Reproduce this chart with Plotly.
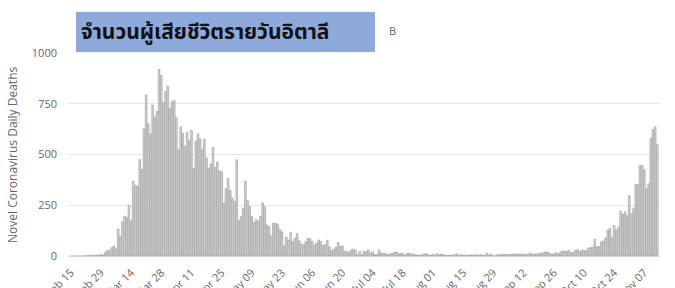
import pandas as pd
import plotly.graph_objects as go

start_date = "2020-02-15"
daily_deaths = [
    # Feb 15 - Feb 29
    0, 0, 0, 0, 0, 0, 1, 1, 1, 4, 4, 1, 5, 4, 8,
    # Mar
    5, 18, 27, 28, 41, 49, 36, 133, 97, 168, 196, 189, 250, 175, 368, 349, 345, 475, 427, 627,
    793, 651, 601, 743, 683, 712, 919, 889, 756, 812, 837,
    # Apr
    727, 760, 766, 681, 525, 636, 604, 542, 610, 570, 619, 431, 566, 602, 578, 525, 575, 482,
    433, 454, 534, 437, 464, 420, 415, 260, 333, 382, 323, 285,
    # May
    269, 474, 174, 195, 236, 369, 274, 243, 194, 165, 179, 172, 195, 262, 242, 153, 145, 99,
    162, 161, 156, 130, 119, 50, 92, 78, 117, 70, 87, 111, 75,
    # Jun
    60, 55, 71, 88, 85, 72, 53, 65, 79, 71, 53, 56, 78, 44, 26, 34, 43, 66, 47, 49, 24, 23,
    18, 30, 34, 30, 8, 22, 6, 23,
    # Jul
    21, 30, 15, 21, 7, 8, 30, 15, 12, 12, 7, 9, 13, 17, 20, 11, 13, 11, 3, 13, 15, 9, 11, 5,
    5, 5, 5, 11, 11, 6, 3,
    # Aug
    7, 3, 12, 5, 10, 6, 3, 2, 4, 4, 6, 10, 3, 6, 4, 4, 4, 5, 6, 4, 7, 3, 7, 4, 4, 13, 5, 9,
    1, 2, 6,
    # Sep
    8, 6, 10, 6, 7, 8, 7, 10, 10, 10, 10, 7, 8, 9, 14, 9, 10, 10, 13, 13, 16, 20, 20, 15, 10,
    10, 17, 11, 17, 24,
    # Oct
    24, 23, 27, 18, 17, 28, 31, 22, 28, 29, 26, 39, 41, 43, 83, 47, 47, 69, 73, 89, 127, 136,
    91, 151, 128, 141, 221, 205, 217, 199, 297,
    # Nov 1 - Nov 13
    208, 233, 353, 352, 445, 446, 425, 331, 356, 580, 623, 636, 550,
]
dates = pd.date_range(start_date, periods=len(daily_deaths), freq="D")

tick_dates = pd.date_range(start_date, dates[-1], freq="14D")
tick_labels = [d.strftime("%b %d") for d in tick_dates]
y_ticks = [0, 250, 500, 750, 1000]

title_text = "จำนวนผู้เสียชีวิตรายวันอิตาลี"
y_title = "Novel Coronavirus Daily Deaths"

# page body has an 8px margin, so the figure is offset by 8px
OFF = 8
W, H = 675 - OFF, 288 - OFF
L, R, T = 68 - OFF, 15, 53 - OFF
B = H - (256 - OFF)
pw, ph = W - L - R, H - T - B

def px(x):
    return (x - OFF - L) / pw

def py(y):
    return (H - B - (y - OFF)) / ph

fig = go.Figure()
fig.add_trace(go.Bar(
    x=dates, y=daily_deaths,
    marker=dict(color="#d2d2d2", line=dict(color="#9a9a9a", width=0.6)),
))

fig.update_layout(
    width=W, height=H,
    margin=dict(l=L, r=R, t=T, b=B),
    paper_bgcolor="white", plot_bgcolor="white",
    bargap=0.2,
    showlegend=False,
    font=dict(family="Open Sans, Noto Sans, sans-serif", color="#666666", size=11),
)
fig.update_xaxes(
    range=[dates[0] - pd.Timedelta(hours=30), dates[-1] + pd.Timedelta(hours=30)],
    tickvals=tick_dates, ticktext=tick_labels, tickangle=-45,
    showgrid=False, zeroline=False,
    showline=True, linecolor="#ccd6eb", linewidth=1,
    ticks="", automargin=False, ticklabelstandoff=5,
    tickfont=dict(size=11, color="#666666"),
)
fig.update_yaxes(
    range=[0, 1000], tickvals=y_ticks,
    showgrid=True, gridcolor="#e6e6e6", gridwidth=1,
    zeroline=False, showline=False, ticks="",
    automargin=False, ticklabelstandoff=10,
    tickfont=dict(size=11, color="#666666"),
)

fig.add_annotation(
    text=y_title, textangle=-90, xref="paper", yref="paper",
    x=px(12), y=py(155), showarrow=False,
    font=dict(size=12, color="#666666"), xanchor="center", yanchor="middle",
)
fig.add_annotation(
    text="B", xref="paper", yref="paper", x=px(392), y=py(31),
    showarrow=False, font=dict(size=11, color="#666666"),
    xanchor="center", yanchor="middle",
)
fig.add_shape(
    type="rect", xref="paper", yref="paper",
    x0=px(76), x1=px(375), y0=py(52), y1=py(12),
    fillcolor="#8eaadb", line=dict(width=0), layer="above",
)
fig.add_annotation(
    text="<b>" + title_text + "</b>", xref="paper", yref="paper",
    x=px(79), y=py(32), showarrow=False, xanchor="left", yanchor="middle",
    font=dict(size=21, color="#111111", family="Tahoma, Noto Sans Thai, Leelawadee UI, sans-serif"),
)

fig.write_html("out.html")
